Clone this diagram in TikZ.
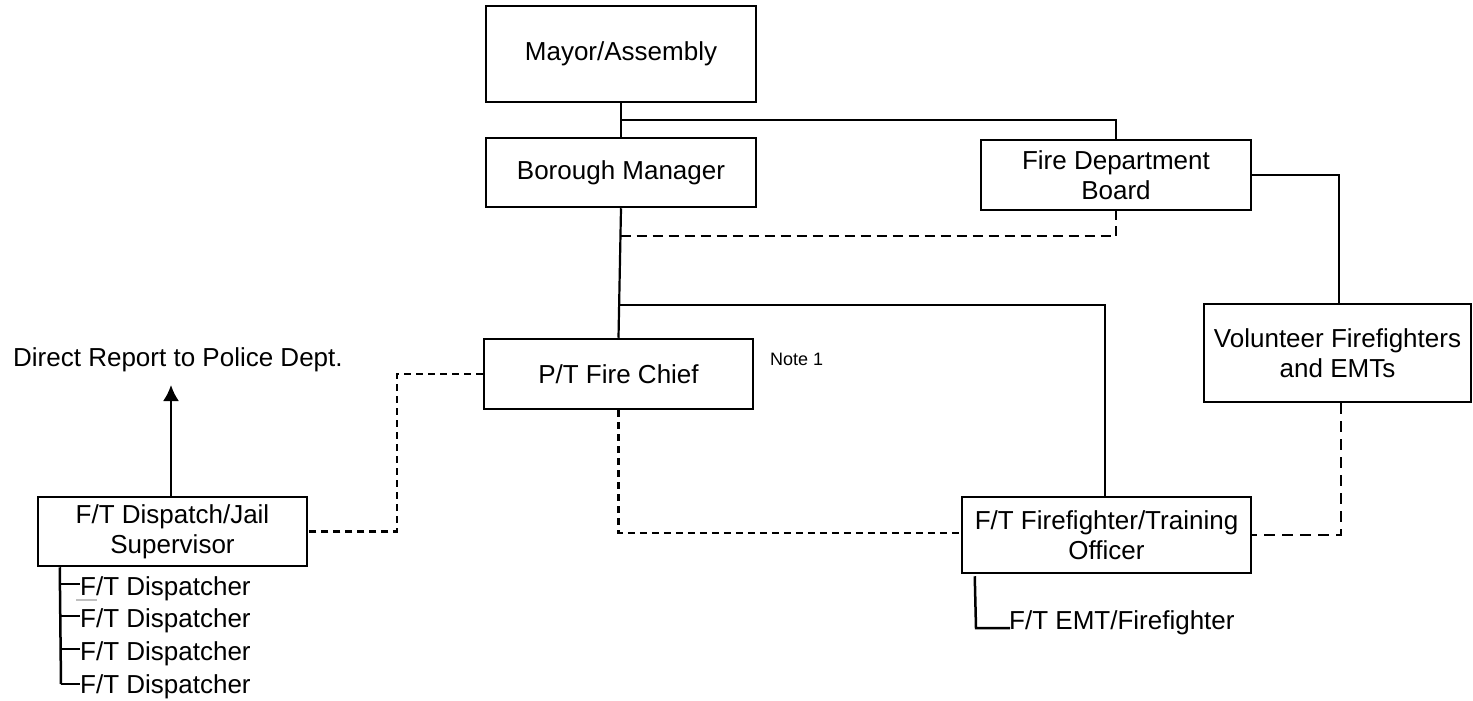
\documentclass[tikz,border=0pt]{standalone}
\usepackage{fontspec}
\setmainfont{Liberation Sans}
\usetikzlibrary{arrows.meta,calc}
\begin{document}
\begin{tikzpicture}[x=1pt,y=-1pt,
  box/.style={draw,line width=2.5pt,inner sep=0pt,align=center,font=\fontsize{26}{30}\selectfont},
  conn/.style={line width=2.2pt},
  dashA/.style={line width=2.3pt,dash pattern=on 10pt off 6pt},
  dashB/.style={line width=2.2pt,dash pattern=on 7pt off 5pt},
  dashC/.style={line width=2.2pt,dash pattern=on 11pt off 7pt},
  plain/.style={inner sep=0pt,font=\fontsize{26}{30}\selectfont},
  small/.style={inner sep=0pt,font=\fontsize{18}{22}\selectfont}]
\useasboundingbox (0,0) rectangle (1473,701);
% boxes
\node[box,minimum width=270pt,minimum height=96pt] (mayor) at (621,54) {Mayor/Assembly};
\node[box,minimum width=270pt,minimum height=69pt] (borough) at (621,172.5) {Borough Manager};
\node[box,minimum width=270pt,minimum height=70pt] (board) at (1116,175) {Fire Department\\Board};
\node[box,minimum width=267pt,minimum height=98pt] (volunteer) at (1337.5,353) {Volunteer Firefighters\\and EMTs};
\node[box,minimum width=269pt,minimum height=70pt] (chief) at (618.5,374) {P/T Fire Chief};
\node[box,minimum width=289pt,minimum height=76pt] (training) at (1106.5,535) {F/T Firefighter/Training\\Officer};
\node[box,minimum width=269pt,minimum height=69pt] (dispatch) at (172.5,531.5) {F/T Dispatch/Jail\\Supervisor};
% texts
\node[small,anchor=base west] (note) at (770,365) {Note 1};
\node[plain,anchor=base west] (police) at (13,366) {Direct Report to Police Dept.};
\node[plain,anchor=base west] (d1) at (80,595) {F/T Dispatcher};
\node[plain,anchor=base west] (d2) at (80,627) {F/T Dispatcher};
\node[plain,anchor=base west] (d3) at (80,660) {F/T Dispatcher};
\node[plain,anchor=base west] (d4) at (80,693) {F/T Dispatcher};
\node[plain,anchor=base west] (emt) at (1009,629) {F/T EMT/Firefighter};
% coordinates
\coordinate (j1) at (621,120);
\coordinate (j2) at (620.5,236);
\coordinate (j3) at (620,305);
\coordinate (j4) at (397,374);
\coordinate (tip) at (171,385);
\coordinate (v0) at ($(dispatch.south west)+(23,0)$);
\coordinate (v1) at (61,684);
\coordinate (e0) at ($(training.south west)+(14,2)$);
\coordinate (e1) at (976,628);
\coordinate (e2) at (1010,628);
% solid connectors
\draw[conn] (mayor.south) -- (borough.north);
\draw[conn] (j1) -| (board.north);
\draw[conn] (board.east) -| ([xshift=1.5pt]volunteer.north);
\draw[conn] (borough.south) -- (chief.north);
\draw[conn] (j3) -| ([xshift=-1.5pt]training.north);
% dashed connectors
\draw[dashA] (j2) -| (board.south);
\draw[dashB] (chief.south) |- ([yshift=2pt]training.west);
\draw[dashC] ([xshift=3.5pt]volunteer.south) |- (training.east);
\draw[dashB] (chief.west) -- (j4) |- (dispatch.east);
% arrow
\draw[conn,-{Latex[length=16pt,width=16pt]}] ([xshift=-1.5pt]dispatch.north) -- (tip);
% dispatcher list
\draw[line width=2.5pt] (v0) -- (v1);
\foreach \d in {d1,d2,d3}{
  \draw[line width=2.5pt] (v0 |- {$(\d.base west)+(0,-11)$}) -- ($(\d.base west)+(0,-11)$);
}
\draw[line width=2.5pt] (v1) -- ($(d4.base west)+(0,-9)$);
\draw[gray!50,line width=1.5pt] (76,600) -- (97,600);
% EMT
\draw[line width=2.5pt] (e0) -- (e1) -- (e2);
\end{tikzpicture}
\end{document}
